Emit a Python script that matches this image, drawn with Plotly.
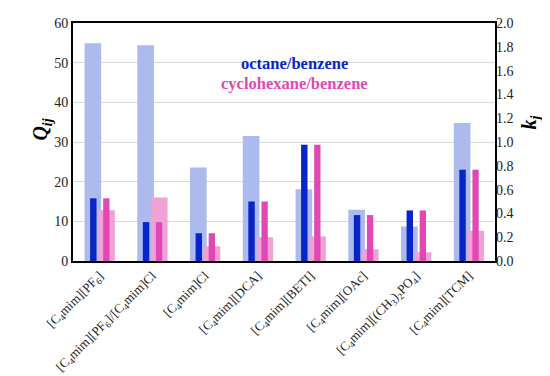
import plotly.graph_objects as go

categories = [
    "[C<sub>4</sub>mim][PF<sub>6</sub>]",
    "[C<sub>4</sub>mim][PF<sub>6</sub>]/[C<sub>4</sub>mim]Cl",
    "[C<sub>4</sub>mim]Cl",
    "[C<sub>4</sub>mim][DCA]",
    "[C<sub>4</sub>mim][BETI]",
    "[C<sub>4</sub>mim][OAc]",
    "[C<sub>4</sub>mim][(CH<sub>3</sub>)<sub>2</sub>PO<sub>4</sub>]",
    "[C<sub>4</sub>mim][TCM]",
]
q_octane = [54.9, 54.4, 23.6, 31.5, 18.1, 12.9, 8.7, 34.8]
q_cyclohexane = [12.8, 16.0, 3.7, 6.0, 6.2, 2.95, 2.2, 7.6]
k_octane = [0.527, 0.327, 0.233, 0.50, 0.977, 0.386, 0.425, 0.767]
k_cyclohexane = [0.527, 0.327, 0.233, 0.50, 0.977, 0.386, 0.425, 0.767]

LIGHT_BLUE = "rgb(172,186,238)"
DARK_BLUE = "rgb(8,38,200)"
LIGHT_PINK = "rgb(240,162,214)"
MAGENTA = "rgb(226,72,180)"
SERIF = "Liberation Serif, Times New Roman, serif"

fig = go.Figure()
fig.add_trace(go.Bar(x=categories, y=q_octane, marker_color=LIGHT_BLUE, marker_line_width=0,
                     width=0.315, offset=-0.281, yaxis="y", showlegend=False))
fig.add_trace(go.Bar(x=categories, y=k_octane, marker_color=DARK_BLUE, marker_line_width=0,
                     width=0.122, offset=-0.176, yaxis="y2", showlegend=False))
fig.add_trace(go.Bar(x=categories, y=q_cyclohexane, marker_color=LIGHT_PINK, marker_line_width=0,
                     width=0.31, offset=-0.017, yaxis="y", showlegend=False))
fig.add_trace(go.Bar(x=categories, y=k_cyclohexane, marker_color=MAGENTA, marker_line_width=0,
                     width=0.12, offset=0.072, yaxis="y2", showlegend=False))

fig.update_layout(
    width=550, height=376,
    margin=dict(l=65, r=63, t=15, b=123),
    barmode="overlay",
    paper_bgcolor="white", plot_bgcolor="white",
    font=dict(family=SERIF, size=13, color="#222"),
    xaxis=dict(
        type="category", tickangle=-45, automargin=False,
        tickfont=dict(family=SERIF, size=13, color="#222"),
        showline=True, linecolor="black", linewidth=2, mirror=True,
        ticks="", showgrid=False,
    ),
    yaxis=dict(
        range=[0, 60], tickvals=[0, 10, 20, 30, 40, 50, 60], automargin=False,
        showgrid=True, gridcolor="#d9d9d9", gridwidth=1,
        showline=True, linecolor="black", linewidth=2, mirror=True,
        ticks="", zeroline=False,
        tickfont=dict(family=SERIF, size=14, color="#222"),
    ),
    yaxis2=dict(
        range=[0, 2.0], tickvals=[0, 0.2, 0.4, 0.6, 0.8, 1.0, 1.2, 1.4, 1.6, 1.8, 2.0],
        tickformat=".1f", overlaying="y", side="right", automargin=False,
        showgrid=False, showline=False, ticks="", zeroline=False,
        tickfont=dict(family=SERIF, size=14, color="#222"),
    ),
    annotations=[
        dict(text="<b><i>Q<sub>ij</sub></i></b>", xref="paper", yref="paper",
             x=0, xshift=-46, y=0.55, textangle=-90, showarrow=False,
             font=dict(family=SERIF, size=20, color="black")),
        dict(text="<b><i>k<sub>j</sub></i></b>", xref="paper", yref="paper",
             x=1, xshift=50, y=0.58, textangle=-90, showarrow=False,
             font=dict(family=SERIF, size=20, color="black")),
        dict(text="<b>octane/benzene</b>", xref="paper", yref="paper",
             x=0.524, y=0.878, showarrow=False,
             font=dict(family=SERIF, size=16.5, color=DARK_BLUE)),
        dict(text="<b>cyclohexane/benzene</b>", xref="paper", yref="paper",
             x=0.524, y=0.796, showarrow=False,
             font=dict(family=SERIF, size=16.5, color=MAGENTA)),
    ],
)

fig.write_html("out.html")
